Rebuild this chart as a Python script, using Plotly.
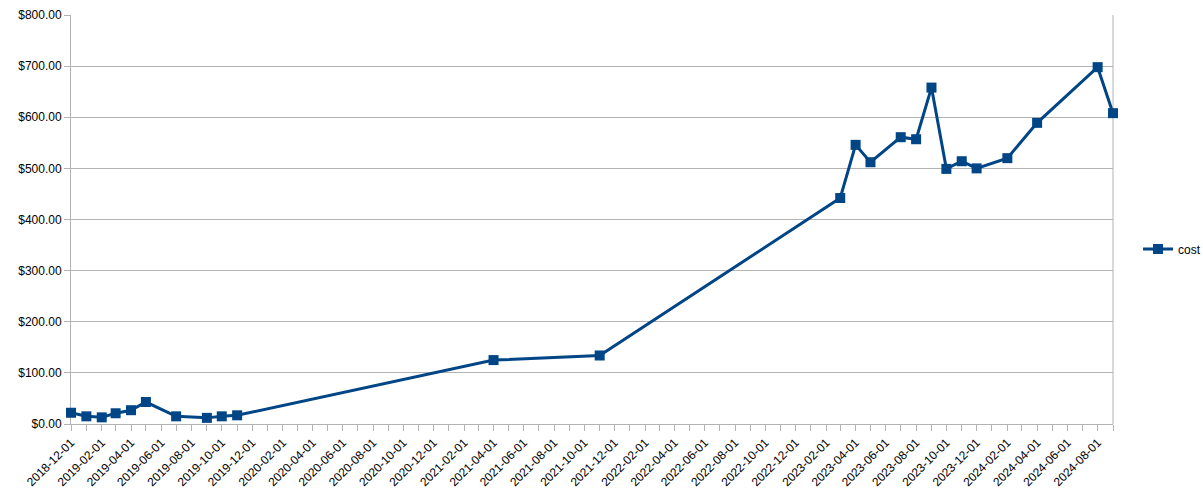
import plotly.graph_objects as go

# monthly cost readings
dates = [
    "2018-12-01", "2019-01-01", "2019-02-01", "2019-03-01", "2019-04-01",
    "2019-05-01", "2019-07-01", "2019-09-01", "2019-10-01", "2019-11-01",
    "2021-04-01", "2021-11-01",
    "2023-03-01", "2023-04-01", "2023-05-01", "2023-07-01", "2023-08-01",
    "2023-09-01", "2023-10-01", "2023-11-01", "2023-12-01", "2024-02-01",
    "2024-04-01", "2024-08-01", "2024-09-01",
]
cost = [
    22, 15, 13, 21, 27,
    43, 15, 12, 15, 17,
    125, 134,
    442, 546, 512, 561, 557,
    658, 499, 514, 500, 520,
    589, 698, 608,
]

blue = "#004586"
grid = "#b3b3b3"
font = "Liberation Sans, Arial, sans-serif"

fig = go.Figure()
fig.add_trace(
    go.Scatter(
        x=dates,
        y=cost,
        name="cost",
        mode="lines+markers",
        line=dict(color=blue, width=3),
        marker=dict(symbol="square", size=10, color=blue),
        cliponaxis=False,
    )
)

fig.update_layout(
    width=1203,
    height=496,
    autosize=False,
    margin=dict(l=71, r=90, t=15, b=72),
    plot_bgcolor="white",
    paper_bgcolor="white",
    font=dict(family=font, size=12, color="#000000"),
    showlegend=True,
    # legend placed against the whole figure so it doesn't push the margin
    legend=dict(
        xref="container", yref="container",
        x=0.946, y=0.498, xanchor="left", yanchor="middle",
        font=dict(size=12), bgcolor="rgba(0,0,0,0)",
    ),
)

fig.update_xaxes(
    type="date",
    range=["2018-12-01", "2024-09-01"],
    tick0="2018-12-01",
    dtick="M2",
    tickformat="%Y-%m-%d",
    tickangle=-45,
    ticks="outside",
    ticklen=6,
    tickcolor=grid,
    minor=dict(dtick="M1", ticks="outside", ticklen=6, tickcolor=grid, showgrid=False),
    showgrid=False,
    showline=True,
    linecolor=grid,
    linewidth=1,
    automargin=False,
    zeroline=False,
    layer="below traces",
)

fig.update_yaxes(
    range=[0, 800],
    dtick=100,
    tickprefix="$",
    tickformat=",.2f",
    ticks="outside",
    ticklen=6,
    tickcolor=grid,
    showgrid=True,
    gridcolor=grid,
    gridwidth=1,
    showline=True,
    linecolor=grid,
    linewidth=1,
    zeroline=False,
    automargin=False,
    layer="below traces",
)

# right border of the plot area, as in the reference
fig.add_shape(
    type="line", xref="paper", yref="paper", x0=1, x1=1, y0=0, y1=1,
    line=dict(color=grid, width=1), layer="below",
)

# drop the default page margin so the chart sits at the window's corner
post = "document.body.style.margin='0';document.body.style.overflow='hidden';"
fig.write_html(
    "out.html",
    post_script=post,
    config={"responsive": False, "displayModeBar": False},
)
